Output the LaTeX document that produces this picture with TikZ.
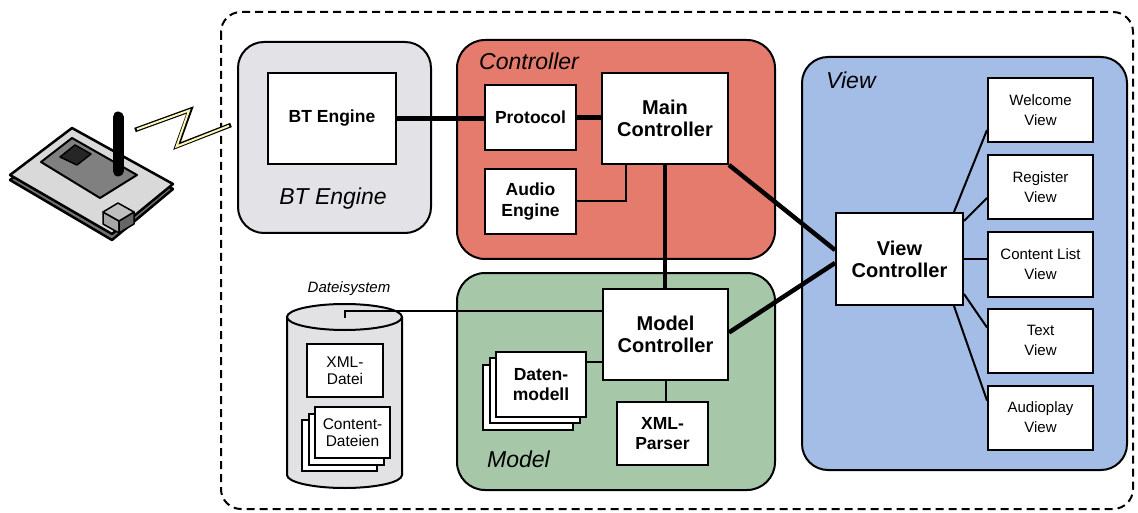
\documentclass[tikz,border=0pt]{standalone}
\usepackage{fontspec}
\setmainfont{Liberation Sans}
\usetikzlibrary{calc}
\definecolor{ctrlred}{RGB}{228,123,108}
\definecolor{modelgreen}{RGB}{166,200,168}
\definecolor{viewblue}{RGB}{163,189,230}
\definecolor{btgrey}{RGB}{226,226,231}
\definecolor{cylgrey}{RGB}{226,226,229}
\definecolor{boltyellow}{RGB}{250,246,180}
\begin{document}
\begin{tikzpicture}[x=1pt,y=-1pt,
  box/.style={draw, line width=2pt, fill=white, inner sep=0pt, align=center},
  bigbox/.style={box, font=\fontsize{20}{22}\selectfont\bfseries},
  midbox/.style={box, font=\fontsize{17.5}{20.5}\selectfont\bfseries},
  viewbox/.style={box, font=\fontsize{15}{20}\selectfont, minimum width=105pt, minimum height=64pt},
  filebox/.style={box, font=\fontsize{15.5}{17.5}\selectfont},
  group/.style={draw, line width=2pt, rounded corners=#1},
  group/.default=26pt,
  grouplabel/.style={font=\fontsize{23}{26}\selectfont\itshape, inner sep=0pt},
  heavylink/.style={line width=4.5pt},
  lightlink/.style={line width=2pt},
]
\useasboundingbox (0,0) rectangle (1138,513);

% system boundary
\draw[line width=2pt, dash pattern=on 8pt off 5pt, rounded corners=20pt] (221,12) rectangle (1133,509);

% component groups
\filldraw[group, fill=btgrey] (238,42) rectangle (431,233);
\filldraw[group=28pt, fill=ctrlred] (457,40) rectangle (775,259);
\filldraw[group=28pt, fill=modelgreen] (457,273) rectangle (775,490);
\filldraw[group, fill=viewblue] (802,57) rectangle (1127,470);

\node[grouplabel] (lblbt) at (333,199) {BT Engine};
\node[grouplabel, anchor=base west] (lblctrl) at (479,70) {Controller};
\node[grouplabel, anchor=base west] (lblmodel) at (487,467) {Model};
\node[grouplabel, anchor=base west] (lblview) at (826,89) {View};

% Bluetooth device
\filldraw[line width=2.5pt, fill=black!55, line join=round] (10,180) -- (72,133) -- (173,189) -- (112,240) -- cycle;
\filldraw[line width=2.5pt, fill=black!15, line join=round] (10,175) -- (72,128) -- (173,184) -- (112,234) -- cycle;
\filldraw[line width=2pt, fill=black!50, line join=round] (41,162) -- (72,138) -- (137,175) -- (100,198) -- cycle;
\filldraw[line width=1.5pt, fill=black!85, line join=round] (60,157) -- (75,145) -- (91,154) -- (77,165) -- cycle;
\draw[line width=11pt, line cap=round] (118,117) -- (118,171);
\filldraw[line width=1.5pt, fill=black!35, line join=round] (103,212) -- (119,221) -- (119,233) -- (103,224) -- cycle;
\filldraw[line width=1.5pt, fill=black!60, line join=round] (119,221) -- (134,212) -- (134,224) -- (119,233) -- cycle;
\filldraw[line width=1.5pt, fill=black!25, line join=round] (103,212) -- (118,203) -- (134,212) -- (119,221) -- cycle;
\draw[line width=4.5pt, line join=miter] (135,130) -- (190,110) -- (177,146) -- (231,125);
\draw[line width=2pt, boltyellow, line join=miter] (137,129.3) -- (189,110.5) -- (176.5,146.5) -- (229,125.8);

% file system
\node[font=\fontsize{15}{17}\selectfont\itshape, inner sep=0pt] (lblfs) at (349,289) {Dateisystem};
\filldraw[line width=2pt, fill=cylgrey] (287,317) -- (287,475) arc[start angle=180, end angle=360, x radius=57.5pt, y radius=13pt] -- (402,317);
\filldraw[line width=2pt, fill=cylgrey] (344.5,317) ellipse[x radius=57.5pt, y radius=13pt];
\coordinate (fsport) at (345,318);
\node[filebox, minimum width=76pt, minimum height=53pt] (xmldatei) at (345,370.5) {XML-\\Datei};
\node[filebox, minimum width=75pt, minimum height=51pt] (content3) at (339.5,445.5) {};
\node[filebox, minimum width=75pt, minimum height=51pt] (content2) at (346,439) {};
\node[filebox, minimum width=75pt, minimum height=51pt] (content) at (352.5,432.5) {Content-\\Dateien};

% BT engine
\node[midbox, minimum width=128pt, minimum height=91pt] (btinner) at (332,118.5) {BT Engine};

% controller
\node[midbox, minimum width=91pt, minimum height=65pt] (protocol) at (530.5,117.5) {Protocol};
\node[bigbox, minimum width=126pt, minimum height=91pt] (mainctl) at (665,118.5) {Main\\Controller};
\node[midbox, minimum width=91pt, minimum height=65pt] (audio) at (530.5,201.5) {Audio\\Engine};

% model
\node[bigbox, minimum width=125pt, minimum height=91pt] (modelctl) at (665.5,334.5) {Model\\Controller};
\node[midbox, minimum width=90pt, minimum height=65pt] (daten3) at (528,397) {};
\node[midbox, minimum width=90pt, minimum height=65pt] (daten2) at (534.5,390.7) {};
\node[midbox, minimum width=90pt, minimum height=65pt] (daten) at (541,384.5) {Daten-\\modell};
\node[midbox, minimum width=91pt, minimum height=63pt] (xmlparser) at (662.5,433.5) {XML-\\Parser};

% view
\node[bigbox, minimum width=127pt, minimum height=92pt] (viewctl) at (899.5,259) {View\\Controller};
\node[viewbox] (vwelcome) at (1040.5,110) {Welcome\\View};
\node[viewbox] (vregister) at (1040.5,187) {Register\\View};
\node[viewbox] (vcontent) at (1040.5,264.5) {Content List\\View};
\node[viewbox] (vtext) at (1040.5,340.5) {Text\\View};
\node[viewbox] (vaudio) at (1040.5,417.5) {Audioplay\\View};

% connections
\draw[heavylink] (btinner.east) -- (btinner.east -| protocol.west);
\draw[heavylink] (protocol.east) -- (protocol.east -| mainctl.west);
\draw[lightlink] (audio.east) -| ([xshift=25pt]mainctl.south west);
\draw[heavylink] (mainctl.south) -- (mainctl.south |- modelctl.north);
\draw[heavylink] (mainctl.south east) -- ([yshift=9pt]viewctl.west);
\draw[heavylink] ([yshift=2pt]modelctl.east) -- ([yshift=-4pt]viewctl.west);
\draw[lightlink] (fsport) |- ([yshift=23.5pt]modelctl.west);
\draw[lightlink] ([yshift=-11pt]daten.north east) -- ([yshift=-11pt]daten.north east -| modelctl.west);
\draw[lightlink] (modelctl.south) -- (modelctl.south |- xmlparser.north);
\draw[lightlink] ([xshift=-10pt]viewctl.north east) -- ([yshift=-20pt]vwelcome.west);
\draw[lightlink] ([yshift=-9pt]viewctl.north east) -- ([yshift=-11pt]vregister.west);
\draw[lightlink] (viewctl.east) -- (viewctl.east -| vcontent.west);
\draw[lightlink] ([yshift=12pt]viewctl.south east) -- ([yshift=13pt]vtext.west);
\draw[lightlink] ([xshift=-10pt]viewctl.south east) -- ([yshift=17pt]vaudio.west);
\end{tikzpicture}
\end{document}
